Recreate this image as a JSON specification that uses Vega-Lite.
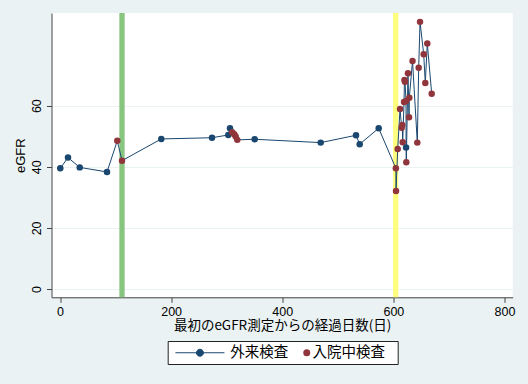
{
  "$schema": "https://vega.github.io/schema/vega-lite/v6.json",
  "width": 461.2,
  "height": 284.3,
  "autosize": {"type": "none"},
  "padding": {"left": 51.5, "top": 13, "right": 15.3, "bottom": 86.7},
  "background": "#eaf2f3",
  "config": {"view": {"fill": "#ffffff", "stroke": null}, "font": "Liberation Sans"},
  "datasets": {
    "egfr": [
      {"day": 0.5, "egfr": 39.5, "type": "外来検査"},
      {"day": 14.4, "egfr": 43.0, "type": "外来検査"},
      {"day": 35.5, "egfr": 39.8, "type": "外来検査"},
      {"day": 84.6, "egfr": 38.3, "type": "外来検査"},
      {"day": 103.1, "egfr": 48.5, "type": "入院中検査"},
      {"day": 111.6, "egfr": 42.0, "type": "入院中検査"},
      {"day": 182.3, "egfr": 49.1, "type": "外来検査"},
      {"day": 273.6, "egfr": 49.5, "type": "外来検査"},
      {"day": 302.9, "egfr": 50.4, "type": "外来検査"},
      {"day": 306.0, "egfr": 52.6, "type": "外来検査"},
      {"day": 310.0, "egfr": 51.3, "type": "入院中検査"},
      {"day": 313.7, "egfr": 50.6, "type": "入院中検査"},
      {"day": 316.2, "egfr": 49.9, "type": "入院中検査"},
      {"day": 319.1, "egfr": 48.8, "type": "入院中検査"},
      {"day": 350.4, "egfr": 49.0, "type": "外来検査"},
      {"day": 469.2, "egfr": 47.9, "type": "外来検査"},
      {"day": 532.8, "egfr": 50.3, "type": "外来検査"},
      {"day": 539.4, "egfr": 47.4, "type": "外来検査"},
      {"day": 573.6, "egfr": 52.6, "type": "外来検査"},
      {"day": 604.5, "egfr": 39.5, "type": "入院中検査"},
      {"day": 604.8, "egfr": 32.1, "type": "入院中検査"},
      {"day": 607.8, "egfr": 45.8, "type": "入院中検査"},
      {"day": 612.0, "egfr": 58.9, "type": "入院中検査"},
      {"day": 615.0, "egfr": 52.8, "type": "入院中検査"},
      {"day": 616.1, "egfr": 53.7, "type": "入院中検査"},
      {"day": 616.8, "egfr": 48.0, "type": "入院中検査"},
      {"day": 619.2, "egfr": 61.2, "type": "入院中検査"},
      {"day": 620.0, "egfr": 68.4, "type": "入院中検査"},
      {"day": 621.0, "egfr": 67.8, "type": "入院中検査"},
      {"day": 622.8, "egfr": 61.5, "type": "入院中検査"},
      {"day": 622.9, "egfr": 46.3, "type": "外来検査"},
      {"day": 623.3, "egfr": 41.5, "type": "入院中検査"},
      {"day": 626.3, "egfr": 70.6, "type": "入院中検査"},
      {"day": 628.2, "egfr": 56.2, "type": "入院中検査"},
      {"day": 628.7, "egfr": 62.6, "type": "入院中検査"},
      {"day": 634.5, "egfr": 74.6, "type": "入院中検査"},
      {"day": 643.1, "egfr": 47.9, "type": "入院中検査"},
      {"day": 645.6, "egfr": 72.4, "type": "入院中検査"},
      {"day": 648.0, "egfr": 87.4, "type": "入院中検査"},
      {"day": 654.6, "egfr": 76.8, "type": "入院中検査"},
      {"day": 657.5, "egfr": 67.4, "type": "入院中検査"},
      {"day": 661.1, "egfr": 80.3, "type": "入院中検査"},
      {"day": 669.0, "egfr": 63.9, "type": "入院中検査"}
    ],
    "events": [
      {"day": 111.6, "event": "A"},
      {"day": 604.2, "event": "B"}
    ]
  },
  "encoding": {
    "x": {
      "field": "day",
      "type": "quantitative",
      "scale": {"domain": [-15.3, 814.8], "nice": false, "zero": false},
      "axis": {
        "values": [0, 200, 400, 600, 800],
        "title": "最初のeGFR測定からの経過日数(日)",
        "titleFont": "Noto Sans CJK JP",
        "titleFontSize": 13.5,
        "titleFontWeight": "normal",
        "titleColor": "#000000",
        "titleY": 28,
        "titleBaseline": "middle",
        "labelFontSize": 12.5,
        "labelColor": "#000000",
        "labelPadding": 3,
        "tickSize": 5,
        "grid": false,
        "domainColor": "#444444",
        "tickColor": "#444444"
      }
    }
  },
  "layer": [
    {
      "data": {"name": "events"},
      "transform": [{"filter": "datum.event === 'A'"}],
      "mark": {"type": "rule", "strokeWidth": 5.3, "color": "#88c57f"},
      "encoding": {}
    },
    {
      "data": {"name": "events"},
      "transform": [{"filter": "datum.event === 'B'"}],
      "mark": {"type": "rule", "strokeWidth": 5.3, "color": "#ffff7f"},
      "encoding": {}
    },
    {
      "data": {"name": "egfr"},
      "mark": {"type": "line", "strokeWidth": 1},
      "encoding": {
        "y": {
          "field": "egfr",
          "type": "quantitative",
          "scale": {"domain": [-2.7, 90.3], "nice": false, "zero": false},
          "axis": {
            "values": [0, 20, 40, 60],
            "title": "eGFR",
            "titleFontSize": 13,
            "titleFontWeight": "normal",
            "titleColor": "#000000",
            "titlePadding": 3,
            "labelAngle": -90,
            "labelAlign": "center",
            "labelBaseline": "bottom",
            "labelFontSize": 12.5,
            "labelColor": "#000000",
            "labelPadding": 3,
            "tickSize": 5,
            "grid": true,
            "gridColor": "#eaf2f3",
            "domainColor": "#444444",
            "tickColor": "#444444"
          }
        },
        "stroke": {
          "datum": "外来検査",
          "type": "nominal",
          "scale": {"domain": ["外来検査"], "range": ["#1a476f"]},
          "legend": {
            "orient": "none",
            "legendX": 116.2,
            "legendY": 328,
            "direction": "horizontal",
            "title": null,
            "strokeColor": "#222222",
            "fillColor": "#ffffff",
            "padding": 4.5,
            "labelFont": "Noto Sans CJK JP",
            "labelFontSize": 14.5,
            "labelColor": "#000000",
            "labelOffset": 43.5,
            "symbolType": "M-1.143,0H12.857M4.857,0A1,1 0 1,1 6.857,0A1,1 0 1,1 4.857,0ZM60.3,0h0",
            "symbolSize": 49,
            "symbolStrokeWidth": 1,
            "symbolFillColor": "#1a476f"
          }
        }
      }
    },
    {
      "data": {"name": "egfr"},
      "mark": {"type": "point", "filled": true, "size": 42, "opacity": 1},
      "encoding": {
        "y": {"field": "egfr", "type": "quantitative"},
        "color": {
          "field": "type",
          "type": "nominal",
          "scale": {"domain": ["外来検査", "入院中検査"], "range": ["#1a476f", "#90353b"]},
          "legend": {
            "values": ["入院中検査"],
            "orient": "none",
            "legendX": 248,
            "legendY": 332.5,
            "direction": "horizontal",
            "title": null,
            "padding": 0,
            "labelFont": "Noto Sans CJK JP",
            "labelFontSize": 14.5,
            "labelColor": "#000000",
            "labelOffset": -1.5,
            "symbolType": "circle",
            "symbolSize": 49
          }
        }
      }
    }
  ]
}
